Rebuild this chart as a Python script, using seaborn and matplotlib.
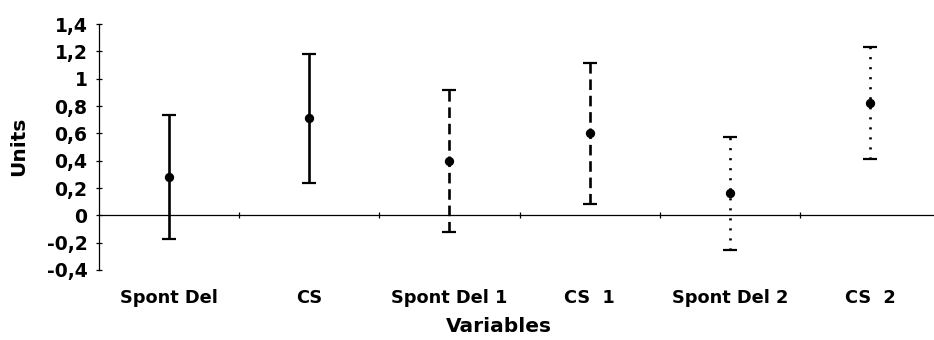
import numpy as np
import seaborn as sns
import matplotlib.pyplot as plt
from matplotlib.ticker import FixedLocator

categories = ["Spont Del", "CS", "Spont Del 1", "CS  1", "Spont Del 2", "CS  2"]
means = [0.28, 0.71, 0.40, 0.60, 0.16, 0.82]
half_ranges = [0.455, 0.47, 0.52, 0.515, 0.415, 0.41]
ytick_values = [-0.4, -0.2, 0, 0.2, 0.4, 0.6, 0.8, 1, 1.2, 1.4]
ytick_labels = ["-0,4", "-0,2", "0", "0,2", "0,4", "0,6", "0,8", "1", "1,2", "1,4"]

# line style per variable: plain, first follow-up dashed, second dotted
bar_styles = ["solid", "solid", (0, (4.0, 2.2)), (0, (4.0, 2.2)), (0, (0.8, 3.0)), (0, (0.8, 3.0))]

sns.set_theme(style="white")
plt.rcParams["font.family"] = ["DejaVu Sans"]
plt.rcParams["font.weight"] = "bold"
plt.rcParams["text.color"] = "black"
plt.rcParams["axes.labelcolor"] = "black"

fig = plt.figure(figsize=(9.34, 3.4), dpi=100)
ax = fig.add_axes([0.106, 0.206, 0.894, 0.723])

x = np.arange(len(categories))
for i in range(len(categories)):
    eb = ax.errorbar(x[i], means[i], yerr=half_ranges[i], fmt="none",
                     ecolor="black", elinewidth=1.9, capsize=4.8, capthick=1.6,
                     zorder=2)
    eb[2][0].set_linestyle(bar_styles[i])

sns.scatterplot(x=categories, y=means, ax=ax, color="black", s=45,
                linewidth=0, zorder=3)

ax.set_ylim(-0.4, 1.4)
ax.set_xlim(-0.5, 5.457)
ax.set_yticks(ytick_values)
ax.set_yticklabels(ytick_labels)
ax.set_xticks(x)
ax.set_xticklabels(categories)
ax.xaxis.set_minor_locator(FixedLocator(np.arange(0.5, len(categories) - 1, 1)))

for s in ["top", "right"]:
    ax.spines[s].set_visible(False)
ax.spines["bottom"].set_position(("data", 0))
ax.spines["bottom"].set_linewidth(0.9)
ax.spines["left"].set_linewidth(0.9)
ax.spines["bottom"].set_color("black")
ax.spines["left"].set_color("black")

ax.tick_params(axis="y", left=True, direction="inout", length=4.5, width=0.9,
               pad=6, colors="black", labelsize=13.5)
ax.tick_params(axis="x", which="major", bottom=True, length=0, pad=53,
               colors="black", labelsize=12.8)
ax.tick_params(axis="x", which="minor", bottom=True, direction="inout", length=4,
               width=0.9, color="black")
for lab in ax.get_xticklabels() + ax.get_yticklabels():
    lab.set_fontweight("bold")

ax.set_xlabel("Variables", fontsize=14.5, fontweight="bold", color="black")
ax.set_ylabel("Units", fontsize=14.5, fontweight="bold", color="black")
ax.xaxis.set_label_coords(0.479, -0.19)
ax.yaxis.set_label_coords(-0.085, 0.504)

fig.savefig("out.png", dpi=100)
